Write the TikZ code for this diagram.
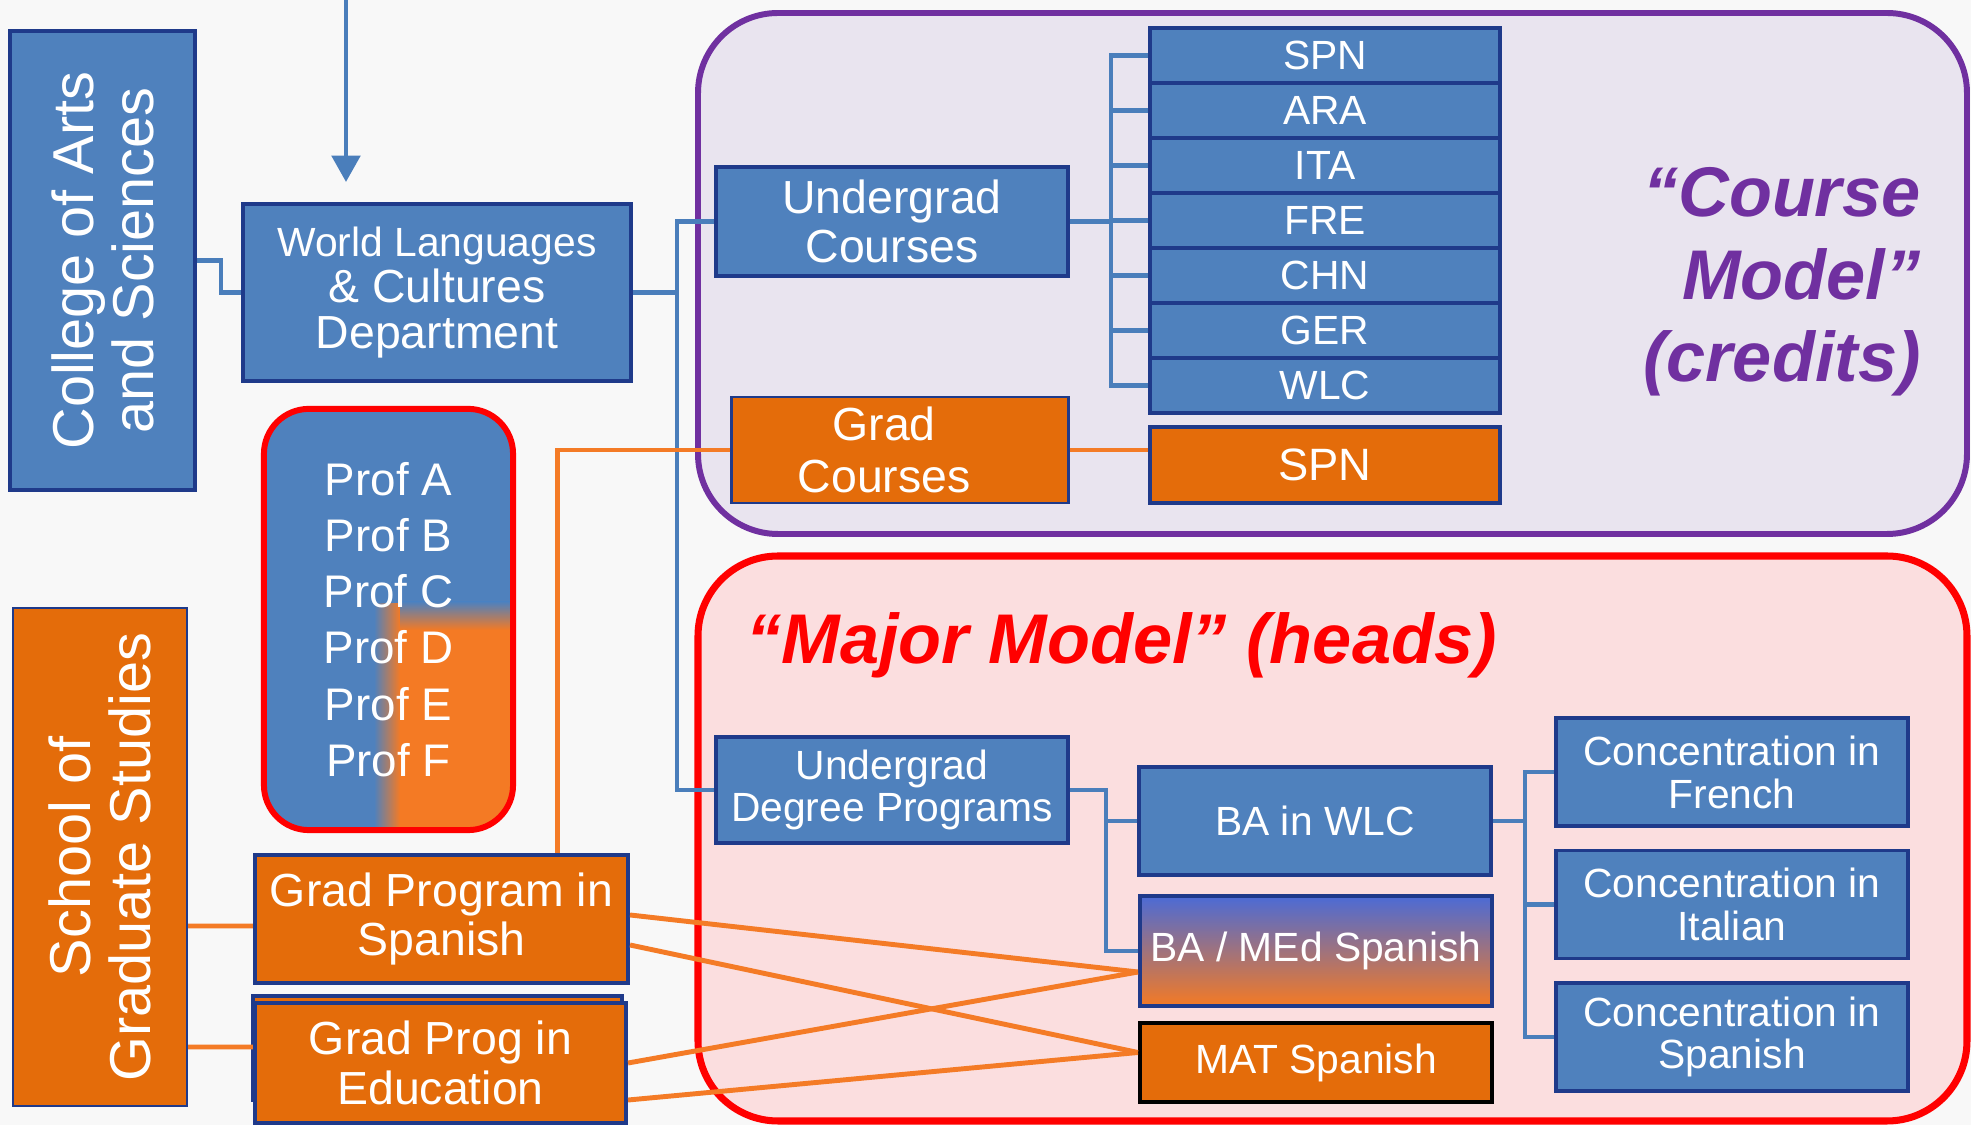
\documentclass[tikz,border=0pt]{standalone}
\usepackage{fontspec}
\setmainfont{Liberation Sans}
\usetikzlibrary{positioning, arrows.meta, calc}
\definecolor{pagebg}{HTML}{F8F8F8}
\definecolor{ofblue}{HTML}{4F81BD}
\definecolor{navy}{HTML}{1F3A8A}
\definecolor{oforange}{HTML}{E46C0A}
\definecolor{profor}{HTML}{F47A24}
\definecolor{lineblue}{HTML}{4A7EBB}
\definecolor{lineorange}{HTML}{F47B26}
\definecolor{purp}{HTML}{7030A0}
\definecolor{lav}{HTML}{E9E4EF}
\definecolor{pinkbg}{HTML}{FBDEDF}
\definecolor{redline}{HTML}{FF0000}

\begin{document}
\begin{tikzpicture}[x=0.01cm, y=-0.01cm,
  box/.style={draw=navy, line width=1.1pt, fill=ofblue, text=white, inner sep=0pt, align=center},
  obox/.style={box, fill=oforange},
  bline/.style={lineblue, line width=1.2pt},
  oline/.style={lineorange, line width=1.4pt},
  fa/.style={font=\fontsize{11.6pt}{12.2pt}\selectfont},
  fb/.style={font=\fontsize{13.2pt}{14pt}\selectfont},
  fc/.style={font=\fontsize{16.4pt}{17pt}\selectfont},
  fm/.style={font=\fontsize{20pt}{23.5pt}\selectfont\bfseries\itshape}]
\useasboundingbox[fill=pagebg] (0,0) rectangle (1971,1125);
%model areas
\draw[purp, fill=lav, line width=1.7pt, rounded corners=0.8cm] (698,13) rectangle (1967,534);
\draw[redline, fill=pinkbg, line width=2pt, rounded corners=0.8cm] (698,556) rectangle (1967,1121);
\node[fm, text=purp, align=right, anchor=east] (cm) at (1933,282) {“Course\\Model”\\(credits)};
\node[fm, text=redline, anchor=base west] (mm) at (734,664) {“Major Model” (heads)};
%left side
\node[box, fc, minimum width=4.59cm, minimum height=1.85cm, rotate=90] (college) at (102.5,260.5) {College of Arts\\and Sciences};
\node[obox, fc, line width=0.6pt, minimum width=4.98cm, minimum height=1.74cm, rotate=90] (school) at (100,857) {School of\\Graduate Studies};
\node[box, font=\fontsize{13.2pt}{13pt}\selectfont, minimum width=3.88cm, minimum height=1.77cm] (dept) at (437,292.5) {{\fontsize{11.6pt}{13pt}\selectfont World Languages}\\\& Cultures\\Department};
%profs
\fill[ofblue, rounded corners=0.45cm] (264,409) rectangle (513,830);
\begin{scope}
\clip[rounded corners=0.45cm] (264,409) rectangle (513,830);
\shade[left color=ofblue, right color=profor] (374,604) rectangle (400,830);
\shade[top color=ofblue, bottom color=profor] (400,602) rectangle (513,630);
\fill[profor] (400,630) rectangle (513,830);
\end{scope}
\node[draw=redline, line width=1.7pt, rounded corners=0.45cm, minimum width=2.49cm, minimum height=4.21cm, text=white, align=center, font=\fontsize{13pt}{16pt}\selectfont] (prof) at (388.5,619.5) {Prof A\\Prof B\\Prof C\\Prof D\\Prof E\\Prof F};
%grad programs
\node[obox, fb, minimum width=3.73cm, minimum height=1.28cm] (gps) at (441.5,919) {Grad Program in\\Spanish};
\draw[obox] (253,996) rectangle (622,1100);
\node[obox, fb, minimum width=3.71cm, minimum height=1.2cm] (gpe) at (440.5,1063) {Grad Prog in\\Education};
%course model
\node[box, fb, minimum width=3.52cm, minimum height=1.09cm] (ugc) at (892,221.5) {Undergrad\\Courses};
\node[obox, font=\fontsize{13.2pt}{14.6pt}\selectfont, line width=0.8pt, minimum width=3.36cm, minimum height=1.06cm] (gc) at (900,450) {Grad\hspace*{9pt}\\Courses\hspace*{9pt}};
\foreach \n [count=\i from 0] in {SPN,ARA,ITA,FRE,CHN,GER,WLC}
  \node[box, fa, minimum width=3.5cm, minimum height=0.55cm] (\n) at (1325,55.5+55*\i) {\n};
\node[obox, font=\fontsize{12.9pt}{14pt}\selectfont, minimum width=3.5cm, minimum height=0.76cm] (spng) at (1325,465) {SPN};
%major model
\node[box, fa, minimum width=3.52cm, minimum height=1.06cm] (udp) at (892,790) {Undergrad\\Degree Programs};
\node[box, fa, minimum width=3.52cm, minimum height=1.08cm] (bawlc) at (1315,821) {BA in WLC};
\node[box, fa, top color=ofblue!70!blue!90!white, middle color=ofblue!40!profor, bottom color=profor, minimum width=3.52cm, minimum height=1.1cm] (bamed) at (1316,951) {BA / MEd Spanish};
\node[obox, fa, draw=black, minimum width=3.52cm, minimum height=0.79cm] (mat) at (1316,1062.5) {MAT Spanish};
\foreach \n/\t [count=\i from 0] in {fr/French, it/Italian, sp/Spanish}
  \node[box, fa, minimum width=3.52cm, minimum height=1.08cm] (\n) at (1732,772+132.5*\i) {Concentration in\\\t};
%links
\coordinate (arrtop) at (346,0);
\coordinate (arrtip) at (346,182);
\draw[bline, line width=1.4pt, -{Triangle[width=8pt,length=7.5pt]}] (arrtop) -- (arrtip);
\draw[bline] (college.south) -- ++(24,0) |- (dept.west);
\draw[bline] (dept.east) -- ++(44,0) coordinate (dj);
\draw[bline] (dj) |- (ugc.west);
\draw[bline] (dj) |- (udp.west);
\foreach \n in {SPN,ARA,ITA,FRE,CHN,GER,WLC} \draw[bline] (ugc.east) -- ++(41,0) |- (\n.west);
\draw[bline] (udp.east) -- ++(36,0) |- (bawlc.west);
\draw[bline] (udp.east) -- ++(36,0) |- (bamed.west);
\foreach \n in {fr,it,sp} \draw[bline] (bawlc.east) -- ++(32,0) |- (\n.west);
\draw[oline] (gc.east) -- (gc.east -| spng.west);
\draw[oline] (gc.west) -| ([xshift=1.155cm]gps.north);
\draw[oline] ([yshift=-0.07cm]gps.west) -- ($(school.south |- gps.west)+(0,7)$);
\draw[oline] ([yshift=0.16cm]gpe.west) -- ($(school.south |- gpe.west)+(0,-16)$);
\draw[oline] ([yshift=0.04cm]gps.east) -- ([yshift=-0.21cm]bamed.west);
\draw[oline] ([yshift=-0.26cm]gps.east) -- ([yshift=0.1cm]mat.west);
\draw[oline] (gpe.east) -- ([yshift=-0.21cm]bamed.west);
\draw[oline] ([yshift=-0.37cm]gpe.east) -- ([yshift=0.1cm]mat.west);
\end{tikzpicture}
\end{document}
